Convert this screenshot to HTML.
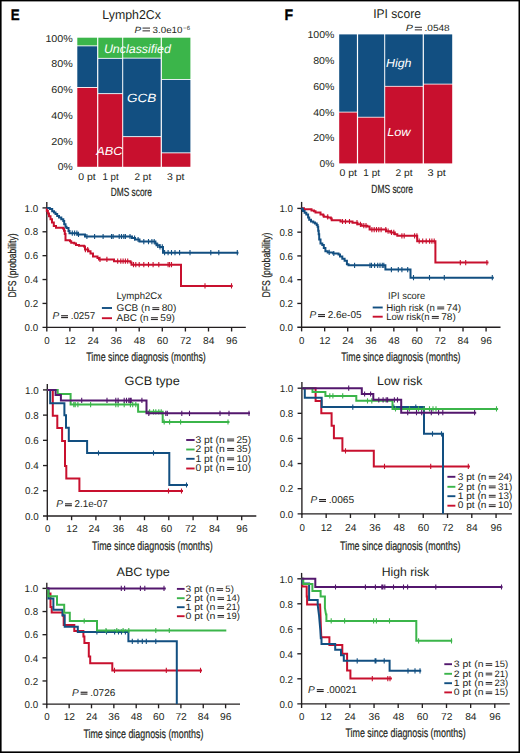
<!DOCTYPE html>
<html><head><meta charset="utf-8"><style>
html,body{margin:0;padding:0;background:#fff;width:520px;height:753px;overflow:hidden}
svg{display:block;font-family:"Liberation Sans",sans-serif}
</style></head><body>
<svg width="520" height="753" viewBox="0 0 520 753" font-family="Liberation Sans, sans-serif" text-rendering="geometricPrecision" fill="#231f20">
<rect x="0" y="0" width="520" height="753" fill="#ffffff"/>
<text x="10.8" y="20.3" font-size="15.2" textLength="8.9" lengthAdjust="spacingAndGlyphs" font-weight="bold" fill="#000" stroke="#000" stroke-width="0.35">E</text>
<text x="102.3" y="19" font-size="12.8" textLength="58.6" lengthAdjust="spacingAndGlyphs">Lymph2Cx</text>
<text x="134.4" y="32.6" font-size="9" textLength="6.6" lengthAdjust="spacingAndGlyphs" font-style="italic">P</text>
<rect x="142.5" y="27.6" width="7.5" height="0.95" fill="#231f20"/>
<rect x="142.5" y="30.4" width="7.5" height="0.95" fill="#231f20"/>
<text x="152.5" y="32.6" font-size="9" textLength="30" lengthAdjust="spacingAndGlyphs">3.0e10</text>
<text x="183.1" y="29.6" font-size="6" textLength="6.9" lengthAdjust="spacingAndGlyphs">&#8722;6</text>
<rect x="77.3" y="37.7" width="19.8" height="7.7" fill="#3bb54a"/>
<rect x="77.3" y="46.3" width="19.8" height="40.7" fill="#124f81"/>
<rect x="77.3" y="87.9" width="19.8" height="78.9" fill="#c8102e"/>
<rect x="98.3" y="37.7" width="23.9" height="20.2" fill="#3bb54a"/>
<rect x="98.3" y="58.8" width="23.9" height="34.4" fill="#124f81"/>
<rect x="98.3" y="94.1" width="23.9" height="72.7" fill="#c8102e"/>
<rect x="123.2" y="37.7" width="37.5" height="20" fill="#3bb54a"/>
<rect x="123.2" y="58.6" width="37.5" height="77.6" fill="#124f81"/>
<rect x="123.2" y="137.1" width="37.5" height="29.7" fill="#c8102e"/>
<rect x="161.9" y="37.7" width="28.5" height="41.3" fill="#3bb54a"/>
<rect x="161.9" y="79.9" width="28.5" height="72.5" fill="#124f81"/>
<rect x="161.9" y="153.3" width="28.5" height="13.5" fill="#c8102e"/>
<text x="45.4" y="41.5" font-size="10" textLength="27.4" lengthAdjust="spacingAndGlyphs">100%</text>
<text x="51.3" y="67.26" font-size="10" textLength="21.5" lengthAdjust="spacingAndGlyphs">80%</text>
<text x="51.3" y="93.02" font-size="10" textLength="21.5" lengthAdjust="spacingAndGlyphs">60%</text>
<text x="51.3" y="118.78" font-size="10" textLength="21.5" lengthAdjust="spacingAndGlyphs">40%</text>
<text x="51.3" y="144.54" font-size="10" textLength="21.5" lengthAdjust="spacingAndGlyphs">20%</text>
<text x="57.8" y="170.3" font-size="10" textLength="15" lengthAdjust="spacingAndGlyphs">0%</text>
<text x="78.2" y="179.5" font-size="9.8" textLength="17.5" lengthAdjust="spacingAndGlyphs">0 pt</text>
<text x="102.5" y="179.5" font-size="9.8" textLength="16.2" lengthAdjust="spacingAndGlyphs">1 pt</text>
<text x="134.5" y="179.5" font-size="9.8" textLength="16.7" lengthAdjust="spacingAndGlyphs">2 pt</text>
<text x="167" y="179.5" font-size="9.8" textLength="17.5" lengthAdjust="spacingAndGlyphs">3 pt</text>
<text x="110.7" y="195.7" font-size="11.8" textLength="41.3" lengthAdjust="spacingAndGlyphs" stroke="#231f20" stroke-width="0.2">DMS score</text>
<text x="103.9" y="53.1" font-size="12.2" textLength="67" lengthAdjust="spacingAndGlyphs" font-style="italic" fill="#fff">Unclassified</text>
<text x="126.9" y="101.5" font-size="12" textLength="29.3" lengthAdjust="spacingAndGlyphs" font-style="italic" fill="#fff">GCB</text>
<text x="96.3" y="154.7" font-size="11.8" textLength="26.3" lengthAdjust="spacingAndGlyphs" font-style="italic" fill="#fff">ABC</text>
<text x="284.6" y="20.1" font-size="15.2" textLength="8.6" lengthAdjust="spacingAndGlyphs" font-weight="bold" fill="#000" stroke="#000" stroke-width="0.35">F</text>
<text x="373.2" y="17.5" font-size="12.8" textLength="47.7" lengthAdjust="spacingAndGlyphs">IPI score</text>
<text x="405.8" y="31" font-size="9" textLength="7.2" lengthAdjust="spacingAndGlyphs" font-style="italic">P</text>
<rect x="414.8" y="26.8" width="7.2" height="0.95" fill="#231f20"/>
<rect x="414.8" y="29.4" width="7.2" height="0.95" fill="#231f20"/>
<text x="424.5" y="31" font-size="9" textLength="25.2" lengthAdjust="spacingAndGlyphs">.0548</text>
<rect x="339.2" y="34.4" width="17.7" height="77.3" fill="#124f81"/>
<rect x="339.2" y="112.5" width="17.7" height="50.9" fill="#c8102e"/>
<rect x="358.1" y="34.4" width="26.1" height="82.4" fill="#124f81"/>
<rect x="358.1" y="117.6" width="26.1" height="45.8" fill="#c8102e"/>
<rect x="385.2" y="34.4" width="37.5" height="51.5" fill="#124f81"/>
<rect x="385.2" y="86.7" width="37.5" height="76.7" fill="#c8102e"/>
<rect x="423.9" y="34.4" width="28.3" height="49.3" fill="#124f81"/>
<rect x="423.9" y="84.5" width="28.3" height="78.9" fill="#c8102e"/>
<text x="307.5" y="38.1" font-size="10" textLength="26.9" lengthAdjust="spacingAndGlyphs">100%</text>
<text x="313.2" y="63.9" font-size="10" textLength="21.2" lengthAdjust="spacingAndGlyphs">80%</text>
<text x="313.2" y="89.7" font-size="10" textLength="21.2" lengthAdjust="spacingAndGlyphs">60%</text>
<text x="313.2" y="115.5" font-size="10" textLength="21.2" lengthAdjust="spacingAndGlyphs">40%</text>
<text x="313.2" y="141.3" font-size="10" textLength="21.2" lengthAdjust="spacingAndGlyphs">20%</text>
<text x="319.6" y="167.1" font-size="10" textLength="14.8" lengthAdjust="spacingAndGlyphs">0%</text>
<text x="339.5" y="175.5" font-size="9.8" textLength="17.5" lengthAdjust="spacingAndGlyphs">0 pt</text>
<text x="363.3" y="175.5" font-size="9.8" textLength="16.7" lengthAdjust="spacingAndGlyphs">1 pt</text>
<text x="395.5" y="175.5" font-size="9.8" textLength="17" lengthAdjust="spacingAndGlyphs">2 pt</text>
<text x="427.5" y="175.5" font-size="9.8" textLength="18.3" lengthAdjust="spacingAndGlyphs">3 pt</text>
<text x="371.3" y="192.5" font-size="11.8" textLength="41.7" lengthAdjust="spacingAndGlyphs" stroke="#231f20" stroke-width="0.2">DMS score</text>
<text x="385.9" y="67.4" font-size="11.8" textLength="25.6" lengthAdjust="spacingAndGlyphs" font-style="italic" fill="#fff">High</text>
<text x="387.2" y="135.6" font-size="11.8" textLength="23.4" lengthAdjust="spacingAndGlyphs" font-style="italic" fill="#fff">Low</text>
<line x1="46.8" y1="202" x2="46.8" y2="327.9" stroke="#231f20" stroke-width="1.35"/>
<line x1="42.5" y1="327.3" x2="245.8" y2="327.3" stroke="#231f20" stroke-width="1.35"/>
<line x1="42.5" y1="207.9" x2="46.8" y2="207.9" stroke="#231f20" stroke-width="1.35"/>
<text x="24.6" y="211.6" font-size="10" textLength="13.6" lengthAdjust="spacingAndGlyphs">1.0</text>
<line x1="42.5" y1="231.78" x2="46.8" y2="231.78" stroke="#231f20" stroke-width="1.35"/>
<text x="24.6" y="235.48" font-size="10" textLength="13.6" lengthAdjust="spacingAndGlyphs">0.8</text>
<line x1="42.5" y1="255.66" x2="46.8" y2="255.66" stroke="#231f20" stroke-width="1.35"/>
<text x="24.6" y="259.36" font-size="10" textLength="13.6" lengthAdjust="spacingAndGlyphs">0.6</text>
<line x1="42.5" y1="279.54" x2="46.8" y2="279.54" stroke="#231f20" stroke-width="1.35"/>
<text x="24.6" y="283.24" font-size="10" textLength="13.6" lengthAdjust="spacingAndGlyphs">0.4</text>
<line x1="42.5" y1="303.42" x2="46.8" y2="303.42" stroke="#231f20" stroke-width="1.35"/>
<text x="24.6" y="307.12" font-size="10" textLength="13.6" lengthAdjust="spacingAndGlyphs">0.2</text>
<text x="24.6" y="331" font-size="10" textLength="13.6" lengthAdjust="spacingAndGlyphs">0.0</text>
<line x1="46.8" y1="327.3" x2="46.8" y2="331.5" stroke="#231f20" stroke-width="1.35"/>
<text x="44.3" y="343.5" font-size="10" textLength="5.4" lengthAdjust="spacingAndGlyphs">0</text>
<line x1="69.9" y1="327.3" x2="69.9" y2="331.5" stroke="#231f20" stroke-width="1.35"/>
<text x="64.4" y="343.5" font-size="10" textLength="11.4" lengthAdjust="spacingAndGlyphs">12</text>
<line x1="93" y1="327.3" x2="93" y2="331.5" stroke="#231f20" stroke-width="1.35"/>
<text x="87.5" y="343.5" font-size="10" textLength="11.4" lengthAdjust="spacingAndGlyphs">24</text>
<line x1="116.1" y1="327.3" x2="116.1" y2="331.5" stroke="#231f20" stroke-width="1.35"/>
<text x="110.6" y="343.5" font-size="10" textLength="11.4" lengthAdjust="spacingAndGlyphs">36</text>
<line x1="139.2" y1="327.3" x2="139.2" y2="331.5" stroke="#231f20" stroke-width="1.35"/>
<text x="133.7" y="343.5" font-size="10" textLength="11.4" lengthAdjust="spacingAndGlyphs">48</text>
<line x1="162.3" y1="327.3" x2="162.3" y2="331.5" stroke="#231f20" stroke-width="1.35"/>
<text x="156.8" y="343.5" font-size="10" textLength="11.4" lengthAdjust="spacingAndGlyphs">60</text>
<line x1="185.4" y1="327.3" x2="185.4" y2="331.5" stroke="#231f20" stroke-width="1.35"/>
<text x="179.9" y="343.5" font-size="10" textLength="11.4" lengthAdjust="spacingAndGlyphs">72</text>
<line x1="208.5" y1="327.3" x2="208.5" y2="331.5" stroke="#231f20" stroke-width="1.35"/>
<text x="203" y="343.5" font-size="10" textLength="11.4" lengthAdjust="spacingAndGlyphs">84</text>
<line x1="231.6" y1="327.3" x2="231.6" y2="331.5" stroke="#231f20" stroke-width="1.35"/>
<text x="226.1" y="343.5" font-size="10" textLength="11.4" lengthAdjust="spacingAndGlyphs">96</text>
<text x="86.3" y="360.5" font-size="12.4" textLength="119.5" lengthAdjust="spacingAndGlyphs" stroke="#231f20" stroke-width="0.2">Time since diagnosis (months)</text>
<path d="M46.8 207.9V211H47.9V213.4H49V216.3H50.5V219.2H52V222.6H53.8V226.1H56V227.8H63V228.5H64V230.7H64.8V234H65.5V240.2H70V241.2H71.2V242.7H74.3V243.5H76V245H79V245.8H84V246.6H85V249.6H88.2V251.2H90.5V253.5H93V256.5H97.5V258.1H99V259.4H114V261.2H130.5V262.5H131.5V264.7H181V285.9H232.7" fill="none" stroke="#c8102e" stroke-width="2.0" stroke-linejoin="miter"/>
<path d="M85.4 247V252.2M87.7 247V252.2M100 256.8V262M106.9 256.8V262M117.7 258.6V263.8M120.8 258.6V263.8M123.1 258.6V263.8M125.4 258.6V263.8M127.7 258.6V263.8M133.5 262.1V267.3M135.8 262.1V267.3M139.2 262.1V267.3M143.8 262.1V267.3M148.5 262.1V267.3M153.1 262.1V267.3M158.8 262.1V267.3M168.1 262.1V267.3M169.6 262.1V267.3M171.5 262.1V267.3M205 283.3V288.5M231.5 283.3V288.5" stroke="#c8102e" stroke-width="1.1" fill="none"/>
<path d="M46.8 207.9H49.8V209H52.2V211.3H54V212.5H55.5V214H57.2V215.9H59V217.4H61.3V219.2H63.3V221H64.2V224.3H65.5V226.7H66.5V228H68.5V231H69.5V233.2H77.5V234.4H85V236.5H132V238H135V239.5H139.5V241.6H155.4V243.5H156.5V245.3H159.5V246.9H163V252.7H238.5" fill="none" stroke="#124f81" stroke-width="2.0" stroke-linejoin="miter"/>
<path d="M72.3 230.6V235.8M74.6 230.6V235.8M76.9 230.6V235.8M78.5 231.8V237M86.9 233.9V239.1M94.6 233.9V239.1M103.1 233.9V239.1M111.5 233.9V239.1M113.1 233.9V239.1M119.2 233.9V239.1M121.5 233.9V239.1M123.8 233.9V239.1M125.4 233.9V239.1M130 233.9V239.1M134.6 235.4V240.6M138.1 236.9V242.1M143.8 239V244.2M148.5 239V244.2M151.9 239V244.2M154.2 239V244.2M157.7 242.7V247.9M160 244.3V249.5M162.3 244.3V249.5M164.6 250.1V255.3M168.1 250.1V255.3M171.5 250.1V255.3M175 250.1V255.3M179.6 250.1V255.3M190 250.1V255.3M210.8 250.1V255.3M218.8 250.1V255.3M237.3 250.1V255.3" stroke="#124f81" stroke-width="1.1" fill="none"/>
<text x="52.4" y="319.1" font-size="9.9" textLength="6.7" lengthAdjust="spacingAndGlyphs" font-style="italic">P</text>
<rect x="61.1" y="315.2" width="6.9" height="1.1" fill="#231f20"/>
<rect x="61.1" y="317.05" width="6.9" height="1.1" fill="#231f20"/>
<text x="70.7" y="319.1" font-size="9.9" textLength="24.5" lengthAdjust="spacingAndGlyphs">.0257</text>
<text x="116.6" y="299.2" font-size="9.8" textLength="45.5" lengthAdjust="spacingAndGlyphs">Lymph2Cx</text>
<line x1="101.9" y1="308" x2="112" y2="308" stroke="#124f81" stroke-width="1.9"/>
<text x="116.6" y="311.3" font-size="9.8" textLength="33.41" lengthAdjust="spacingAndGlyphs">GCB (n</text>
<rect x="152.31" y="307.25" width="7" height="1" fill="#231f20"/>
<rect x="152.31" y="309.05" width="7" height="1" fill="#231f20"/>
<text x="161.71" y="311.3" font-size="9.8" textLength="14.59" lengthAdjust="spacingAndGlyphs">80)</text>
<line x1="101.9" y1="318.2" x2="112" y2="318.2" stroke="#c8102e" stroke-width="1.9"/>
<text x="116.6" y="321.3" font-size="9.8" textLength="32.01" lengthAdjust="spacingAndGlyphs">ABC (n</text>
<rect x="150.91" y="317.25" width="7" height="1" fill="#231f20"/>
<rect x="150.91" y="319.05" width="7" height="1" fill="#231f20"/>
<text x="160.31" y="321.3" font-size="9.8" textLength="14.59" lengthAdjust="spacingAndGlyphs">59)</text>
<text transform="translate(15.6 297.6) rotate(-90)" font-size="11.2" textLength="64.1" lengthAdjust="spacingAndGlyphs" stroke="#231f20" stroke-width="0.2">DFS (probability)</text>
<line x1="301.6" y1="201.9" x2="301.6" y2="327.8" stroke="#231f20" stroke-width="1.35"/>
<line x1="297.3" y1="327.2" x2="500.5" y2="327.2" stroke="#231f20" stroke-width="1.35"/>
<line x1="297.3" y1="208.4" x2="301.6" y2="208.4" stroke="#231f20" stroke-width="1.35"/>
<text x="279.4" y="212.1" font-size="10" textLength="13.6" lengthAdjust="spacingAndGlyphs">1.0</text>
<line x1="297.3" y1="232.16" x2="301.6" y2="232.16" stroke="#231f20" stroke-width="1.35"/>
<text x="279.4" y="235.86" font-size="10" textLength="13.6" lengthAdjust="spacingAndGlyphs">0.8</text>
<line x1="297.3" y1="255.92" x2="301.6" y2="255.92" stroke="#231f20" stroke-width="1.35"/>
<text x="279.4" y="259.62" font-size="10" textLength="13.6" lengthAdjust="spacingAndGlyphs">0.6</text>
<line x1="297.3" y1="279.68" x2="301.6" y2="279.68" stroke="#231f20" stroke-width="1.35"/>
<text x="279.4" y="283.38" font-size="10" textLength="13.6" lengthAdjust="spacingAndGlyphs">0.4</text>
<line x1="297.3" y1="303.44" x2="301.6" y2="303.44" stroke="#231f20" stroke-width="1.35"/>
<text x="279.4" y="307.14" font-size="10" textLength="13.6" lengthAdjust="spacingAndGlyphs">0.2</text>
<text x="279.4" y="330.9" font-size="10" textLength="13.6" lengthAdjust="spacingAndGlyphs">0.0</text>
<line x1="301.6" y1="327.2" x2="301.6" y2="331.4" stroke="#231f20" stroke-width="1.35"/>
<text x="299.1" y="343.5" font-size="10" textLength="5.4" lengthAdjust="spacingAndGlyphs">0</text>
<line x1="324.66" y1="327.2" x2="324.66" y2="331.4" stroke="#231f20" stroke-width="1.35"/>
<text x="319.16" y="343.5" font-size="10" textLength="11.4" lengthAdjust="spacingAndGlyphs">12</text>
<line x1="347.72" y1="327.2" x2="347.72" y2="331.4" stroke="#231f20" stroke-width="1.35"/>
<text x="342.22" y="343.5" font-size="10" textLength="11.4" lengthAdjust="spacingAndGlyphs">24</text>
<line x1="370.78" y1="327.2" x2="370.78" y2="331.4" stroke="#231f20" stroke-width="1.35"/>
<text x="365.28" y="343.5" font-size="10" textLength="11.4" lengthAdjust="spacingAndGlyphs">36</text>
<line x1="393.84" y1="327.2" x2="393.84" y2="331.4" stroke="#231f20" stroke-width="1.35"/>
<text x="388.34" y="343.5" font-size="10" textLength="11.4" lengthAdjust="spacingAndGlyphs">48</text>
<line x1="416.9" y1="327.2" x2="416.9" y2="331.4" stroke="#231f20" stroke-width="1.35"/>
<text x="411.4" y="343.5" font-size="10" textLength="11.4" lengthAdjust="spacingAndGlyphs">60</text>
<line x1="439.96" y1="327.2" x2="439.96" y2="331.4" stroke="#231f20" stroke-width="1.35"/>
<text x="434.46" y="343.5" font-size="10" textLength="11.4" lengthAdjust="spacingAndGlyphs">72</text>
<line x1="463.02" y1="327.2" x2="463.02" y2="331.4" stroke="#231f20" stroke-width="1.35"/>
<text x="457.52" y="343.5" font-size="10" textLength="11.4" lengthAdjust="spacingAndGlyphs">84</text>
<line x1="486.08" y1="327.2" x2="486.08" y2="331.4" stroke="#231f20" stroke-width="1.35"/>
<text x="480.58" y="343.5" font-size="10" textLength="11.4" lengthAdjust="spacingAndGlyphs">96</text>
<text x="341.3" y="360.5" font-size="12.4" textLength="119.2" lengthAdjust="spacingAndGlyphs" stroke="#231f20" stroke-width="0.2">Time since diagnosis (months)</text>
<path d="M301.6 208.3H304V209.2H311.5V210.5H314V211.3H315.5V212.4H320.5V214.5H323.2V215.5H323.8V216.8H327.7V217.4H330.8V218.4H331.7V220.2H340.5V221.5H352.5V222.7H357.5V224.3H361.5V225.7H367.3V226.6H369.6V229.6H386V231.2H390.4V232.4H394.8V234.2H397.3V235.8H417.2V241.2H435.4V262.6H488.5" fill="none" stroke="#c8102e" stroke-width="2.0" stroke-linejoin="miter"/>
<path d="M327.7 214.2V219.4M342.5 218.9V224.1M345.5 218.9V224.1M349.5 218.9V224.1M357 220.1V225.3M360.4 221.7V226.9M363.8 223.1V228.3M366 223.1V228.3M371.9 227V232.2M374.2 227V232.2M376.5 227V232.2M378.8 227V232.2M381.1 227V232.2M385.8 227V232.2M388.1 228.6V233.8M391.5 229.8V235M393.8 229.8V235M401.9 233.2V238.4M404.2 233.2V238.4M414.6 233.2V238.4M416.9 233.2V238.4M419.2 238.6V243.8M422.7 238.6V243.8M426.2 238.6V243.8M429.6 238.6V243.8M431.9 238.6V243.8M434.2 238.6V243.8M460.3 260V265.2M465.7 260V265.2M486.9 260V265.2" stroke="#c8102e" stroke-width="1.1" fill="none"/>
<path d="M301.6 208.3H301.7V208.8H302.9V211.1H304.6V212.8H306.3V214.5H308.1V217.4H309.2V219.7H311V221.5H313.3V222.6H315V223.5H316.7V224.9H317.6V226.7H318.2V230.7H318.7V234.2H319.2V239.6H320.5V243.5H322.3V245H323.8V248.1H325.4V251.2H327.7V252.4H333.1V253.5H338.5V254.5H340V256.5H342.3V258.8H344.6V260.7H346.9V264.2H348.5V265.3H385.4V269.6H410.5V277.7H493.8" fill="none" stroke="#124f81" stroke-width="2.0" stroke-linejoin="miter"/>
<path d="M329.2 249.8V255M333.8 250.9V256.1M354.6 262.7V267.9M370 262.7V267.9M371.5 262.7V267.9M374.6 262.7V267.9M377.7 262.7V267.9M380 262.7V267.9M382.3 262.7V267.9M383.8 262.7V267.9M391.4 267V272.2M398.3 267V272.2M401.9 267V272.2M407.7 267V272.2M413.5 275.1V280.3M429.5 275.1V280.3M444.3 275.1V280.3M492.3 275.1V280.3" stroke="#124f81" stroke-width="1.1" fill="none"/>
<text x="309.4" y="318" font-size="9.9" textLength="6.7" lengthAdjust="spacingAndGlyphs" font-style="italic">P</text>
<rect x="318.1" y="314.1" width="6.9" height="1.1" fill="#231f20"/>
<rect x="318.1" y="315.95" width="6.9" height="1.1" fill="#231f20"/>
<text x="327.7" y="318" font-size="9.9" textLength="33.8" lengthAdjust="spacingAndGlyphs">2.6e-05</text>
<text x="388.1" y="299.4" font-size="9.8" textLength="37.1" lengthAdjust="spacingAndGlyphs">IPI score</text>
<line x1="372.7" y1="307.5" x2="382.7" y2="307.5" stroke="#124f81" stroke-width="1.9"/>
<text x="386.2" y="310.6" font-size="9.8" textLength="48.71" lengthAdjust="spacingAndGlyphs">High risk (n</text>
<rect x="437.21" y="306.55" width="7" height="1" fill="#231f20"/>
<rect x="437.21" y="308.35" width="7" height="1" fill="#231f20"/>
<text x="446.61" y="310.6" font-size="9.8" textLength="14.59" lengthAdjust="spacingAndGlyphs">74)</text>
<line x1="372.7" y1="316.7" x2="382.7" y2="316.7" stroke="#c8102e" stroke-width="1.9"/>
<text x="386.2" y="320" font-size="9.8" textLength="43.31" lengthAdjust="spacingAndGlyphs">Low risk(n</text>
<rect x="431.81" y="315.95" width="7" height="1" fill="#231f20"/>
<rect x="431.81" y="317.75" width="7" height="1" fill="#231f20"/>
<text x="441.21" y="320" font-size="9.8" textLength="14.59" lengthAdjust="spacingAndGlyphs">78)</text>
<text transform="translate(269.8 297.6) rotate(-90)" font-size="11.2" textLength="65.1" lengthAdjust="spacingAndGlyphs" stroke="#231f20" stroke-width="0.2">DFS (probability)</text>
<line x1="47.3" y1="384" x2="47.3" y2="516.6" stroke="#231f20" stroke-width="1.35"/>
<line x1="43" y1="516" x2="256.3" y2="516" stroke="#231f20" stroke-width="1.35"/>
<line x1="43" y1="389.9" x2="47.3" y2="389.9" stroke="#231f20" stroke-width="1.35"/>
<text x="25.1" y="393.6" font-size="10" textLength="13.6" lengthAdjust="spacingAndGlyphs">1.0</text>
<line x1="43" y1="415.12" x2="47.3" y2="415.12" stroke="#231f20" stroke-width="1.35"/>
<text x="25.1" y="418.82" font-size="10" textLength="13.6" lengthAdjust="spacingAndGlyphs">0.8</text>
<line x1="43" y1="440.34" x2="47.3" y2="440.34" stroke="#231f20" stroke-width="1.35"/>
<text x="25.1" y="444.04" font-size="10" textLength="13.6" lengthAdjust="spacingAndGlyphs">0.6</text>
<line x1="43" y1="465.56" x2="47.3" y2="465.56" stroke="#231f20" stroke-width="1.35"/>
<text x="25.1" y="469.26" font-size="10" textLength="13.6" lengthAdjust="spacingAndGlyphs">0.4</text>
<line x1="43" y1="490.78" x2="47.3" y2="490.78" stroke="#231f20" stroke-width="1.35"/>
<text x="25.1" y="494.48" font-size="10" textLength="13.6" lengthAdjust="spacingAndGlyphs">0.2</text>
<text x="25.1" y="519.7" font-size="10" textLength="13.6" lengthAdjust="spacingAndGlyphs">0.0</text>
<line x1="47.3" y1="516" x2="47.3" y2="520.2" stroke="#231f20" stroke-width="1.35"/>
<text x="45" y="531.9" font-size="10" textLength="5.4" lengthAdjust="spacingAndGlyphs">0</text>
<line x1="71.6" y1="516" x2="71.6" y2="520.2" stroke="#231f20" stroke-width="1.35"/>
<text x="66.2" y="531.9" font-size="10" textLength="11.4" lengthAdjust="spacingAndGlyphs">12</text>
<line x1="95.9" y1="516" x2="95.9" y2="520.2" stroke="#231f20" stroke-width="1.35"/>
<text x="88.6" y="531.9" font-size="10" textLength="11.4" lengthAdjust="spacingAndGlyphs">24</text>
<line x1="120.2" y1="516" x2="120.2" y2="520.2" stroke="#231f20" stroke-width="1.35"/>
<text x="112.8" y="531.9" font-size="10" textLength="11.4" lengthAdjust="spacingAndGlyphs">36</text>
<line x1="144.5" y1="516" x2="144.5" y2="520.2" stroke="#231f20" stroke-width="1.35"/>
<text x="136.6" y="531.9" font-size="10" textLength="11.4" lengthAdjust="spacingAndGlyphs">48</text>
<line x1="168.8" y1="516" x2="168.8" y2="520.2" stroke="#231f20" stroke-width="1.35"/>
<text x="160.8" y="531.9" font-size="10" textLength="11.4" lengthAdjust="spacingAndGlyphs">60</text>
<line x1="193.1" y1="516" x2="193.1" y2="520.2" stroke="#231f20" stroke-width="1.35"/>
<text x="184.9" y="531.9" font-size="10" textLength="11.4" lengthAdjust="spacingAndGlyphs">72</text>
<line x1="217.4" y1="516" x2="217.4" y2="520.2" stroke="#231f20" stroke-width="1.35"/>
<text x="208.9" y="531.9" font-size="10" textLength="11.4" lengthAdjust="spacingAndGlyphs">84</text>
<line x1="241.7" y1="516" x2="241.7" y2="520.2" stroke="#231f20" stroke-width="1.35"/>
<text x="236.2" y="531.9" font-size="10" textLength="11.4" lengthAdjust="spacingAndGlyphs">96</text>
<text x="92.1" y="549.6" font-size="12.4" textLength="120.6" lengthAdjust="spacingAndGlyphs" stroke="#231f20" stroke-width="0.2">Time since diagnosis (months)</text>
<text x="124.6" y="384.8" font-size="12.2" textLength="55.2" lengthAdjust="spacingAndGlyphs">GCB type</text>
<path d="M47.3 390H52.8V415.8H57.3V428H62.1V441H65V466H66.3V478.5H79.4V491H183" fill="none" stroke="#c8102e" stroke-width="2.0" stroke-linejoin="miter"/>
<path d="M168.5 488.4V493.6M181.5 488.4V493.6" stroke="#c8102e" stroke-width="1.1" fill="none"/>
<path d="M47.3 390H50.2V403.3H64.4V415.3H66V427.7H68.8V441H87.1V453H169.3V485H188" fill="none" stroke="#124f81" stroke-width="2.0" stroke-linejoin="miter"/>
<path d="M98.5 450.4V455.6M153.5 450.4V455.6M186.5 482.4V487.6" stroke="#124f81" stroke-width="1.1" fill="none"/>
<path d="M47.3 390H57.7V394H70.6V404.6H138.1V411.8H162.7V422H229.5" fill="none" stroke="#3bb54a" stroke-width="2.0" stroke-linejoin="miter"/>
<path d="M73.8 402V407.2M75.2 402V407.2M77.9 402V407.2M90.6 402V407.2M115.8 402V407.2M118.1 402V407.2M124.2 402V407.2M130.4 402V407.2M132.7 402V407.2M135.8 402V407.2M149.6 409.2V414.4M153.5 409.2V414.4M155.8 409.2V414.4M158.8 409.2V414.4M161.2 409.2V414.4M164.2 419.4V424.6M169.6 419.4V424.6M180.6 419.4V424.6M228 419.4V424.6" stroke="#3bb54a" stroke-width="1.1" fill="none"/>
<path d="M47.3 390H55.6V395.1H60.9V400.4H146.5V413.3H250" fill="none" stroke="#53176d" stroke-width="2.0" stroke-linejoin="miter"/>
<path d="M81.7 397.8V403M107 397.8V403M115.8 397.8V403M118.1 397.8V403M124.2 397.8V403M126.5 397.8V403M128.8 397.8V403M130.1 397.8V403M131.2 397.8V403M141.9 397.8V403M148.8 410.7V415.9M165.8 410.7V415.9M167.3 410.7V415.9M181.8 410.7V415.9M189.5 410.7V415.9M220 410.7V415.9M229 410.7V415.9M249 410.7V415.9" stroke="#53176d" stroke-width="1.1" fill="none"/>
<text x="56.3" y="507.2" font-size="9.9" textLength="6.7" lengthAdjust="spacingAndGlyphs" font-style="italic">P</text>
<rect x="65" y="503.3" width="6.9" height="1.1" fill="#231f20"/>
<rect x="65" y="505.15" width="6.9" height="1.1" fill="#231f20"/>
<text x="74.6" y="507.2" font-size="9.9" textLength="33.1" lengthAdjust="spacingAndGlyphs">2.1e-07</text>
<line x1="186.2" y1="440" x2="194.6" y2="440" stroke="#53176d" stroke-width="1.9"/>
<text x="195.4" y="442.6" font-size="9.8" textLength="29.41" lengthAdjust="spacingAndGlyphs">3 pt (n</text>
<rect x="227.11" y="438.55" width="7" height="1" fill="#231f20"/>
<rect x="227.11" y="440.35" width="7" height="1" fill="#231f20"/>
<text x="236.51" y="442.6" font-size="9.8" textLength="14.59" lengthAdjust="spacingAndGlyphs">25)</text>
<line x1="186.2" y1="449.5" x2="194.6" y2="449.5" stroke="#3bb54a" stroke-width="1.9"/>
<text x="195.4" y="452" font-size="9.8" textLength="29.41" lengthAdjust="spacingAndGlyphs">2 pt (n</text>
<rect x="227.11" y="447.95" width="7" height="1" fill="#231f20"/>
<rect x="227.11" y="449.75" width="7" height="1" fill="#231f20"/>
<text x="236.51" y="452" font-size="9.8" textLength="14.59" lengthAdjust="spacingAndGlyphs">35)</text>
<line x1="186.2" y1="458.8" x2="194.6" y2="458.8" stroke="#124f81" stroke-width="1.9"/>
<text x="195.4" y="461.5" font-size="9.8" textLength="29.41" lengthAdjust="spacingAndGlyphs">1 pt (n</text>
<rect x="227.11" y="457.45" width="7" height="1" fill="#231f20"/>
<rect x="227.11" y="459.25" width="7" height="1" fill="#231f20"/>
<text x="236.51" y="461.5" font-size="9.8" textLength="14.59" lengthAdjust="spacingAndGlyphs">10)</text>
<line x1="186.2" y1="468.5" x2="194.6" y2="468.5" stroke="#c8102e" stroke-width="1.9"/>
<text x="195.4" y="471.2" font-size="9.8" textLength="29.41" lengthAdjust="spacingAndGlyphs">0 pt (n</text>
<rect x="227.11" y="467.15" width="7" height="1" fill="#231f20"/>
<rect x="227.11" y="468.95" width="7" height="1" fill="#231f20"/>
<text x="236.51" y="471.2" font-size="9.8" textLength="14.59" lengthAdjust="spacingAndGlyphs">10)</text>
<line x1="301.9" y1="381.9" x2="301.9" y2="514.4" stroke="#231f20" stroke-width="1.35"/>
<line x1="297.6" y1="513.8" x2="511.9" y2="513.8" stroke="#231f20" stroke-width="1.35"/>
<line x1="297.6" y1="388.2" x2="301.9" y2="388.2" stroke="#231f20" stroke-width="1.35"/>
<text x="279.7" y="391.9" font-size="10" textLength="13.6" lengthAdjust="spacingAndGlyphs">1.0</text>
<line x1="297.6" y1="413.32" x2="301.9" y2="413.32" stroke="#231f20" stroke-width="1.35"/>
<text x="279.7" y="417.02" font-size="10" textLength="13.6" lengthAdjust="spacingAndGlyphs">0.8</text>
<line x1="297.6" y1="438.44" x2="301.9" y2="438.44" stroke="#231f20" stroke-width="1.35"/>
<text x="279.7" y="442.14" font-size="10" textLength="13.6" lengthAdjust="spacingAndGlyphs">0.6</text>
<line x1="297.6" y1="463.56" x2="301.9" y2="463.56" stroke="#231f20" stroke-width="1.35"/>
<text x="279.7" y="467.26" font-size="10" textLength="13.6" lengthAdjust="spacingAndGlyphs">0.4</text>
<line x1="297.6" y1="488.68" x2="301.9" y2="488.68" stroke="#231f20" stroke-width="1.35"/>
<text x="279.7" y="492.38" font-size="10" textLength="13.6" lengthAdjust="spacingAndGlyphs">0.2</text>
<text x="279.7" y="517.5" font-size="10" textLength="13.6" lengthAdjust="spacingAndGlyphs">0.0</text>
<line x1="301.9" y1="513.8" x2="301.9" y2="518" stroke="#231f20" stroke-width="1.35"/>
<text x="299.4" y="530.5" font-size="10" textLength="5.4" lengthAdjust="spacingAndGlyphs">0</text>
<line x1="326.17" y1="513.8" x2="326.17" y2="518" stroke="#231f20" stroke-width="1.35"/>
<text x="320.67" y="530.5" font-size="10" textLength="11.4" lengthAdjust="spacingAndGlyphs">12</text>
<line x1="350.44" y1="513.8" x2="350.44" y2="518" stroke="#231f20" stroke-width="1.35"/>
<text x="344.94" y="530.5" font-size="10" textLength="11.4" lengthAdjust="spacingAndGlyphs">24</text>
<line x1="374.71" y1="513.8" x2="374.71" y2="518" stroke="#231f20" stroke-width="1.35"/>
<text x="369.21" y="530.5" font-size="10" textLength="11.4" lengthAdjust="spacingAndGlyphs">36</text>
<line x1="398.98" y1="513.8" x2="398.98" y2="518" stroke="#231f20" stroke-width="1.35"/>
<text x="393.48" y="530.5" font-size="10" textLength="11.4" lengthAdjust="spacingAndGlyphs">48</text>
<line x1="423.25" y1="513.8" x2="423.25" y2="518" stroke="#231f20" stroke-width="1.35"/>
<text x="417.75" y="530.5" font-size="10" textLength="11.4" lengthAdjust="spacingAndGlyphs">60</text>
<line x1="447.52" y1="513.8" x2="447.52" y2="518" stroke="#231f20" stroke-width="1.35"/>
<text x="442.02" y="530.5" font-size="10" textLength="11.4" lengthAdjust="spacingAndGlyphs">72</text>
<line x1="471.79" y1="513.8" x2="471.79" y2="518" stroke="#231f20" stroke-width="1.35"/>
<text x="466.29" y="530.5" font-size="10" textLength="11.4" lengthAdjust="spacingAndGlyphs">84</text>
<line x1="496.06" y1="513.8" x2="496.06" y2="518" stroke="#231f20" stroke-width="1.35"/>
<text x="490.56" y="530.5" font-size="10" textLength="11.4" lengthAdjust="spacingAndGlyphs">96</text>
<text x="340.1" y="549.6" font-size="12.4" textLength="120.3" lengthAdjust="spacingAndGlyphs" stroke="#231f20" stroke-width="0.2">Time since diagnosis (months)</text>
<text x="377.1" y="385.4" font-size="12.2" textLength="45.2" lengthAdjust="spacingAndGlyphs">Low risk</text>
<path d="M301.9 388.2H315.6V400.9H321.3V413.2H331.6V425.8H333.9V438.3H342.4V450.8H373.8V466.4H469.9" fill="none" stroke="#c8102e" stroke-width="2.0" stroke-linejoin="miter"/>
<path d="M345.5 448.2V453.4M384.5 463.8V469M430.7 463.8V469M468.3 463.8V469" stroke="#c8102e" stroke-width="1.1" fill="none"/>
<path d="M301.9 388.2H304.8V397.7H321.7V407.1H424V433.8H443V513.8" fill="none" stroke="#124f81" stroke-width="2.0" stroke-linejoin="miter"/>
<path d="M352.8 404.5V409.7M393.8 404.5V409.7M415.8 404.5V409.7M432.5 431.2V436.4M441.5 431.2V436.4" stroke="#124f81" stroke-width="1.1" fill="none"/>
<path d="M301.9 388.2H312.5V391.9H325.4V395.9H356.3V400.8H392.5V408.9H498.1" fill="none" stroke="#3bb54a" stroke-width="2.0" stroke-linejoin="miter"/>
<path d="M329.8 393.3V398.5M332.9 393.3V398.5M342.7 393.3V398.5M367.5 398.2V403.4M371.8 398.2V403.4M395.5 406.3V411.5M409.5 406.3V411.5M418.5 406.3V411.5M424 406.3V411.5M429.5 406.3V411.5M433 406.3V411.5M436 406.3V411.5M496.5 406.3V411.5" stroke="#3bb54a" stroke-width="1.1" fill="none"/>
<path d="M301.9 388.2H361.8V394H373.3V399.8H401.2V412.7H476.2" fill="none" stroke="#53176d" stroke-width="2.0" stroke-linejoin="miter"/>
<path d="M348.7 385.6V390.8M364.6 391.4V396.6M370.6 391.4V396.6M378.8 397.2V402.4M383.1 397.2V402.4M386.2 397.2V402.4M387.6 397.2V402.4M394.4 397.2V402.4M397.5 397.2V402.4M407.7 410.1V415.3M416.5 410.1V415.3M421.7 410.1V415.3M431.3 410.1V415.3M438.6 410.1V415.3M442.8 410.1V415.3M474.6 410.1V415.3" stroke="#53176d" stroke-width="1.1" fill="none"/>
<text x="310.4" y="502.9" font-size="9.9" textLength="6.7" lengthAdjust="spacingAndGlyphs" font-style="italic">P</text>
<rect x="319.1" y="499" width="6.9" height="1.1" fill="#231f20"/>
<rect x="319.1" y="500.85" width="6.9" height="1.1" fill="#231f20"/>
<text x="328.7" y="502.9" font-size="9.9" textLength="25.5" lengthAdjust="spacingAndGlyphs">.0065</text>
<line x1="447.4" y1="476.8" x2="455.4" y2="476.8" stroke="#53176d" stroke-width="1.9"/>
<text x="457.7" y="479.8" font-size="9.6" textLength="28.85" lengthAdjust="spacingAndGlyphs">3 pt (n</text>
<rect x="488.8" y="475.83" width="6.86" height="0.98" fill="#231f20"/>
<rect x="488.8" y="477.6" width="6.86" height="0.98" fill="#231f20"/>
<text x="498.01" y="479.8" font-size="9.6" textLength="14.29" lengthAdjust="spacingAndGlyphs">24)</text>
<line x1="447.4" y1="486.8" x2="455.4" y2="486.8" stroke="#3bb54a" stroke-width="1.9"/>
<text x="457.7" y="489.5" font-size="9.6" textLength="28.85" lengthAdjust="spacingAndGlyphs">2 pt (n</text>
<rect x="488.8" y="485.53" width="6.86" height="0.98" fill="#231f20"/>
<rect x="488.8" y="487.3" width="6.86" height="0.98" fill="#231f20"/>
<text x="498.01" y="489.5" font-size="9.6" textLength="14.29" lengthAdjust="spacingAndGlyphs">31)</text>
<line x1="447.4" y1="496.2" x2="455.4" y2="496.2" stroke="#124f81" stroke-width="1.9"/>
<text x="457.7" y="498.8" font-size="9.6" textLength="28.85" lengthAdjust="spacingAndGlyphs">1 pt (n</text>
<rect x="488.8" y="494.83" width="6.86" height="0.98" fill="#231f20"/>
<rect x="488.8" y="496.6" width="6.86" height="0.98" fill="#231f20"/>
<text x="498.01" y="498.8" font-size="9.6" textLength="14.29" lengthAdjust="spacingAndGlyphs">13)</text>
<line x1="447.4" y1="505.7" x2="455.4" y2="505.7" stroke="#c8102e" stroke-width="1.9"/>
<text x="457.7" y="508.3" font-size="9.6" textLength="28.85" lengthAdjust="spacingAndGlyphs">0 pt (n</text>
<rect x="488.8" y="504.33" width="6.86" height="0.98" fill="#231f20"/>
<rect x="488.8" y="506.1" width="6.86" height="0.98" fill="#231f20"/>
<text x="498.01" y="508.3" font-size="9.6" textLength="14.29" lengthAdjust="spacingAndGlyphs">10)</text>
<line x1="46.8" y1="582.7" x2="46.8" y2="704.7" stroke="#231f20" stroke-width="1.35"/>
<line x1="42.5" y1="704.1" x2="240" y2="704.1" stroke="#231f20" stroke-width="1.35"/>
<line x1="42.5" y1="588.4" x2="46.8" y2="588.4" stroke="#231f20" stroke-width="1.35"/>
<text x="24.6" y="592.1" font-size="10" textLength="13.6" lengthAdjust="spacingAndGlyphs">1.0</text>
<line x1="42.5" y1="611.54" x2="46.8" y2="611.54" stroke="#231f20" stroke-width="1.35"/>
<text x="24.6" y="615.24" font-size="10" textLength="13.6" lengthAdjust="spacingAndGlyphs">0.8</text>
<line x1="42.5" y1="634.68" x2="46.8" y2="634.68" stroke="#231f20" stroke-width="1.35"/>
<text x="24.6" y="638.38" font-size="10" textLength="13.6" lengthAdjust="spacingAndGlyphs">0.6</text>
<line x1="42.5" y1="657.82" x2="46.8" y2="657.82" stroke="#231f20" stroke-width="1.35"/>
<text x="24.6" y="661.52" font-size="10" textLength="13.6" lengthAdjust="spacingAndGlyphs">0.4</text>
<line x1="42.5" y1="680.96" x2="46.8" y2="680.96" stroke="#231f20" stroke-width="1.35"/>
<text x="24.6" y="684.66" font-size="10" textLength="13.6" lengthAdjust="spacingAndGlyphs">0.2</text>
<text x="24.6" y="707.8" font-size="10" textLength="13.6" lengthAdjust="spacingAndGlyphs">0.0</text>
<line x1="46.8" y1="704.1" x2="46.8" y2="708.3" stroke="#231f20" stroke-width="1.35"/>
<text x="44.3" y="719.9" font-size="10" textLength="5.4" lengthAdjust="spacingAndGlyphs">0</text>
<line x1="69.15" y1="704.1" x2="69.15" y2="708.3" stroke="#231f20" stroke-width="1.35"/>
<text x="63.65" y="719.9" font-size="10" textLength="11.4" lengthAdjust="spacingAndGlyphs">12</text>
<line x1="91.5" y1="704.1" x2="91.5" y2="708.3" stroke="#231f20" stroke-width="1.35"/>
<text x="86" y="719.9" font-size="10" textLength="11.4" lengthAdjust="spacingAndGlyphs">24</text>
<line x1="113.85" y1="704.1" x2="113.85" y2="708.3" stroke="#231f20" stroke-width="1.35"/>
<text x="108.35" y="719.9" font-size="10" textLength="11.4" lengthAdjust="spacingAndGlyphs">36</text>
<line x1="136.2" y1="704.1" x2="136.2" y2="708.3" stroke="#231f20" stroke-width="1.35"/>
<text x="130.7" y="719.9" font-size="10" textLength="11.4" lengthAdjust="spacingAndGlyphs">48</text>
<line x1="158.55" y1="704.1" x2="158.55" y2="708.3" stroke="#231f20" stroke-width="1.35"/>
<text x="153.05" y="719.9" font-size="10" textLength="11.4" lengthAdjust="spacingAndGlyphs">60</text>
<line x1="180.9" y1="704.1" x2="180.9" y2="708.3" stroke="#231f20" stroke-width="1.35"/>
<text x="175.4" y="719.9" font-size="10" textLength="11.4" lengthAdjust="spacingAndGlyphs">72</text>
<line x1="203.25" y1="704.1" x2="203.25" y2="708.3" stroke="#231f20" stroke-width="1.35"/>
<text x="197.75" y="719.9" font-size="10" textLength="11.4" lengthAdjust="spacingAndGlyphs">84</text>
<line x1="225.6" y1="704.1" x2="225.6" y2="708.3" stroke="#231f20" stroke-width="1.35"/>
<text x="220.1" y="719.9" font-size="10" textLength="11.4" lengthAdjust="spacingAndGlyphs">96</text>
<text x="83.4" y="737.6" font-size="12.4" textLength="120" lengthAdjust="spacingAndGlyphs" stroke="#231f20" stroke-width="0.2">Time since diagnosis (months)</text>
<text x="116.5" y="575.8" font-size="12.2" textLength="53.3" lengthAdjust="spacingAndGlyphs">ABC type</text>
<path d="M46.8 588.4H48.2V593.6H50.5V607H51.7V612.4H62.8V615.7H63.7V624.9H74.3V630.9H83.4V636.4H84.4V643H88.8V656.5H90.2V663.3H112.3V670.4H202" fill="none" stroke="#c8102e" stroke-width="2.0" stroke-linejoin="miter"/>
<path d="M114.5 667.8V673M166.3 667.8V673M200.5 667.8V673" stroke="#c8102e" stroke-width="1.1" fill="none"/>
<path d="M46.8 588.4H48.5V598.6H53.4V609.8H62.5V615.3H64.7V626.8H77.8V632H128.4V641.3H176.8V704.1" fill="none" stroke="#124f81" stroke-width="2.0" stroke-linejoin="miter"/>
<path d="M96.9 629.4V634.6M106.5 629.4V634.6M114.6 629.4V634.6M118.5 629.4V634.6M121.5 629.4V634.6M125.4 629.4V634.6M132.3 638.7V643.9M138 638.7V643.9M142.3 638.7V643.9M146.3 638.7V643.9M155.8 638.7V643.9" stroke="#124f81" stroke-width="1.1" fill="none"/>
<path d="M46.8 588.4L48.3 590.5V596.3H57V604.7H64.2V612.7H69.8V621H97V630.5H226.3" fill="none" stroke="#3bb54a" stroke-width="2.0" stroke-linejoin="miter"/>
<path d="M84.2 618.4V623.6M106 627.9V633.1M116.8 627.9V633.1M123.1 627.9V633.1M128.8 627.9V633.1M155.8 627.9V633.1M169.3 627.9V633.1" stroke="#3bb54a" stroke-width="1.1" fill="none"/>
<path d="M46.8 588.4H165.8" fill="none" stroke="#53176d" stroke-width="2.0" stroke-linejoin="miter"/>
<path d="M121.3 585.8V591M124.6 585.8V591M140.4 585.8V591M144.8 585.8V591M164 585.8V591" stroke="#53176d" stroke-width="1.1" fill="none"/>
<text x="71.9" y="695.6" font-size="9.9" textLength="6.7" lengthAdjust="spacingAndGlyphs" font-style="italic">P</text>
<rect x="80.6" y="691.7" width="6.9" height="1.1" fill="#231f20"/>
<rect x="80.6" y="693.55" width="6.9" height="1.1" fill="#231f20"/>
<text x="90.2" y="695.6" font-size="9.9" textLength="25.2" lengthAdjust="spacingAndGlyphs">.0726</text>
<line x1="176.9" y1="588.9" x2="184.6" y2="588.9" stroke="#53176d" stroke-width="1.9"/>
<text x="185.4" y="592" font-size="9.2" textLength="28.99" lengthAdjust="spacingAndGlyphs">3 pt (n</text>
<rect x="216.55" y="588.2" width="6.57" height="0.94" fill="#231f20"/>
<rect x="216.55" y="589.89" width="6.57" height="0.94" fill="#231f20"/>
<text x="225.37" y="592" font-size="9.2" textLength="8.43" lengthAdjust="spacingAndGlyphs">5)</text>
<line x1="176.9" y1="598.2" x2="184.6" y2="598.2" stroke="#3bb54a" stroke-width="1.9"/>
<text x="185.4" y="601.1" font-size="9.2" textLength="29.92" lengthAdjust="spacingAndGlyphs">2 pt (n</text>
<rect x="217.48" y="597.3" width="6.57" height="0.94" fill="#231f20"/>
<rect x="217.48" y="598.99" width="6.57" height="0.94" fill="#231f20"/>
<text x="226.3" y="601.1" font-size="9.2" textLength="13.7" lengthAdjust="spacingAndGlyphs">14)</text>
<line x1="176.9" y1="607.2" x2="184.6" y2="607.2" stroke="#124f81" stroke-width="1.9"/>
<text x="185.4" y="610" font-size="9.2" textLength="29.92" lengthAdjust="spacingAndGlyphs">1 pt (n</text>
<rect x="217.48" y="606.2" width="6.57" height="0.94" fill="#231f20"/>
<rect x="217.48" y="607.89" width="6.57" height="0.94" fill="#231f20"/>
<text x="226.3" y="610" font-size="9.2" textLength="13.7" lengthAdjust="spacingAndGlyphs">21)</text>
<line x1="176.9" y1="616.2" x2="184.6" y2="616.2" stroke="#c8102e" stroke-width="1.9"/>
<text x="185.4" y="618.8" font-size="9.2" textLength="29.92" lengthAdjust="spacingAndGlyphs">0 pt (n</text>
<rect x="217.48" y="615" width="6.57" height="0.94" fill="#231f20"/>
<rect x="217.48" y="616.69" width="6.57" height="0.94" fill="#231f20"/>
<text x="226.3" y="618.8" font-size="9.2" textLength="13.7" lengthAdjust="spacingAndGlyphs">19)</text>
<line x1="301.6" y1="572.9" x2="301.6" y2="704.4" stroke="#231f20" stroke-width="1.35"/>
<line x1="297.3" y1="703.8" x2="509.8" y2="703.8" stroke="#231f20" stroke-width="1.35"/>
<line x1="297.3" y1="578.8" x2="301.6" y2="578.8" stroke="#231f20" stroke-width="1.35"/>
<text x="279.4" y="582.5" font-size="10" textLength="13.6" lengthAdjust="spacingAndGlyphs">1.0</text>
<line x1="297.3" y1="603.8" x2="301.6" y2="603.8" stroke="#231f20" stroke-width="1.35"/>
<text x="279.4" y="607.5" font-size="10" textLength="13.6" lengthAdjust="spacingAndGlyphs">0.8</text>
<line x1="297.3" y1="628.8" x2="301.6" y2="628.8" stroke="#231f20" stroke-width="1.35"/>
<text x="279.4" y="632.5" font-size="10" textLength="13.6" lengthAdjust="spacingAndGlyphs">0.6</text>
<line x1="297.3" y1="653.8" x2="301.6" y2="653.8" stroke="#231f20" stroke-width="1.35"/>
<text x="279.4" y="657.5" font-size="10" textLength="13.6" lengthAdjust="spacingAndGlyphs">0.4</text>
<line x1="297.3" y1="678.8" x2="301.6" y2="678.8" stroke="#231f20" stroke-width="1.35"/>
<text x="279.4" y="682.5" font-size="10" textLength="13.6" lengthAdjust="spacingAndGlyphs">0.2</text>
<text x="279.4" y="707.5" font-size="10" textLength="13.6" lengthAdjust="spacingAndGlyphs">0.0</text>
<line x1="301.6" y1="703.8" x2="301.6" y2="708" stroke="#231f20" stroke-width="1.35"/>
<text x="299.1" y="720" font-size="10" textLength="5.4" lengthAdjust="spacingAndGlyphs">0</text>
<line x1="325.75" y1="703.8" x2="325.75" y2="708" stroke="#231f20" stroke-width="1.35"/>
<text x="320.25" y="720" font-size="10" textLength="11.4" lengthAdjust="spacingAndGlyphs">12</text>
<line x1="349.9" y1="703.8" x2="349.9" y2="708" stroke="#231f20" stroke-width="1.35"/>
<text x="344.4" y="720" font-size="10" textLength="11.4" lengthAdjust="spacingAndGlyphs">24</text>
<line x1="374.05" y1="703.8" x2="374.05" y2="708" stroke="#231f20" stroke-width="1.35"/>
<text x="368.55" y="720" font-size="10" textLength="11.4" lengthAdjust="spacingAndGlyphs">36</text>
<line x1="398.2" y1="703.8" x2="398.2" y2="708" stroke="#231f20" stroke-width="1.35"/>
<text x="392.7" y="720" font-size="10" textLength="11.4" lengthAdjust="spacingAndGlyphs">48</text>
<line x1="422.35" y1="703.8" x2="422.35" y2="708" stroke="#231f20" stroke-width="1.35"/>
<text x="416.85" y="720" font-size="10" textLength="11.4" lengthAdjust="spacingAndGlyphs">60</text>
<line x1="446.5" y1="703.8" x2="446.5" y2="708" stroke="#231f20" stroke-width="1.35"/>
<text x="441" y="720" font-size="10" textLength="11.4" lengthAdjust="spacingAndGlyphs">72</text>
<line x1="470.65" y1="703.8" x2="470.65" y2="708" stroke="#231f20" stroke-width="1.35"/>
<text x="465.15" y="720" font-size="10" textLength="11.4" lengthAdjust="spacingAndGlyphs">84</text>
<line x1="494.8" y1="703.8" x2="494.8" y2="708" stroke="#231f20" stroke-width="1.35"/>
<text x="489.3" y="720" font-size="10" textLength="11.4" lengthAdjust="spacingAndGlyphs">96</text>
<text x="345.4" y="736.8" font-size="12.4" textLength="120.3" lengthAdjust="spacingAndGlyphs" stroke="#231f20" stroke-width="0.2">Time since diagnosis (months)</text>
<text x="381.8" y="576.2" font-size="12.2" textLength="47.4" lengthAdjust="spacingAndGlyphs">High risk</text>
<path d="M301.6 578.8H302.3V586.5H306.7V596.6H307.1V604.6H320.1L320.8 625L321.3 637.3H329.4V645H342.3V653.7H347.1V670.4H350.4V678.6H391.9" fill="none" stroke="#c8102e" stroke-width="2.0" stroke-linejoin="miter"/>
<path d="M372.3 676V681.2M387.8 676V681.2M390 676V681.2" stroke="#c8102e" stroke-width="1.1" fill="none"/>
<path d="M301.6 578.8H302.3V583.6H309.1V600H317.7V605L319 615L320.3 630L320.8 638.3H321.5V644H335.2V649.8H341V655.2H343.8V660.8H389.6V670.8H421.2" fill="none" stroke="#124f81" stroke-width="2.0" stroke-linejoin="miter"/>
<path d="M357.2 658.2V663.4M375.1 658.2V663.4M375.9 658.2V663.4M384.2 658.2V663.4M408 668.2V673.4M415 668.2V673.4M420 668.2V673.4" stroke="#124f81" stroke-width="1.1" fill="none"/>
<path d="M301.6 578.8H303.3V584.1H312.4V591.1H320.6V596.6H324.9V608L326 614.4H326.4V620.9H416.3V640.8H452.2" fill="none" stroke="#3bb54a" stroke-width="2.0" stroke-linejoin="miter"/>
<path d="M331.2 618.3V623.5M344.6 618.3V623.5M373.6 618.3V623.5M376.4 618.3V623.5M389.5 618.3V623.5M418.6 638.2V643.4M451.5 638.2V643.4" stroke="#3bb54a" stroke-width="1.1" fill="none"/>
<path d="M301.6 578.8H315.3V587H502.5" fill="none" stroke="#53176d" stroke-width="2.0" stroke-linejoin="miter"/>
<path d="M335.5 584.4V589.6M365.4 584.4V589.6M375.4 584.4V589.6M381.8 584.4V589.6M382.9 584.4V589.6M384.8 584.4V589.6M393.5 584.4V589.6M403.5 584.4V589.6M407.6 584.4V589.6M435.8 584.4V589.6M501.5 584.4V589.6" stroke="#53176d" stroke-width="1.1" fill="none"/>
<text x="308.1" y="693" font-size="9.9" textLength="6.7" lengthAdjust="spacingAndGlyphs" font-style="italic">P</text>
<rect x="316.8" y="689.1" width="6.9" height="1.1" fill="#231f20"/>
<rect x="316.8" y="690.95" width="6.9" height="1.1" fill="#231f20"/>
<text x="326.4" y="693" font-size="9.9" textLength="30.3" lengthAdjust="spacingAndGlyphs">.00021</text>
<line x1="444.3" y1="664.2" x2="452" y2="664.2" stroke="#53176d" stroke-width="1.9"/>
<text x="453.8" y="667" font-size="9.2" textLength="29.72" lengthAdjust="spacingAndGlyphs">3 pt (n</text>
<rect x="485.68" y="663.2" width="6.57" height="0.94" fill="#231f20"/>
<rect x="485.68" y="664.89" width="6.57" height="0.94" fill="#231f20"/>
<text x="494.5" y="667" font-size="9.2" textLength="13.7" lengthAdjust="spacingAndGlyphs">15)</text>
<line x1="444.3" y1="673.8" x2="452" y2="673.8" stroke="#3bb54a" stroke-width="1.9"/>
<text x="453.8" y="676.5" font-size="9.2" textLength="29.72" lengthAdjust="spacingAndGlyphs">2 pt (n</text>
<rect x="485.68" y="672.7" width="6.57" height="0.94" fill="#231f20"/>
<rect x="485.68" y="674.39" width="6.57" height="0.94" fill="#231f20"/>
<text x="494.5" y="676.5" font-size="9.2" textLength="13.7" lengthAdjust="spacingAndGlyphs">21)</text>
<line x1="444.3" y1="683.2" x2="452" y2="683.2" stroke="#124f81" stroke-width="1.9"/>
<text x="453.8" y="685.8" font-size="9.2" textLength="29.72" lengthAdjust="spacingAndGlyphs">1 pt (n</text>
<rect x="485.68" y="682" width="6.57" height="0.94" fill="#231f20"/>
<rect x="485.68" y="683.69" width="6.57" height="0.94" fill="#231f20"/>
<text x="494.5" y="685.8" font-size="9.2" textLength="13.7" lengthAdjust="spacingAndGlyphs">23)</text>
<line x1="444.3" y1="692.4" x2="452" y2="692.4" stroke="#c8102e" stroke-width="1.9"/>
<text x="453.8" y="695.3" font-size="9.2" textLength="29.72" lengthAdjust="spacingAndGlyphs">0 pt (n</text>
<rect x="485.68" y="691.5" width="6.57" height="0.94" fill="#231f20"/>
<rect x="485.68" y="693.19" width="6.57" height="0.94" fill="#231f20"/>
<text x="494.5" y="695.3" font-size="9.2" textLength="13.7" lengthAdjust="spacingAndGlyphs">15)</text>
<rect x="0" y="0" width="520" height="1.4" fill="#000"/>
<rect x="0" y="0" width="1.6" height="753" fill="#000"/>
<rect x="518.5" y="0" width="1.5" height="753" fill="#000"/>
<rect x="0" y="751.4" width="520" height="1.6" fill="#000"/>
</svg>
</body></html>
